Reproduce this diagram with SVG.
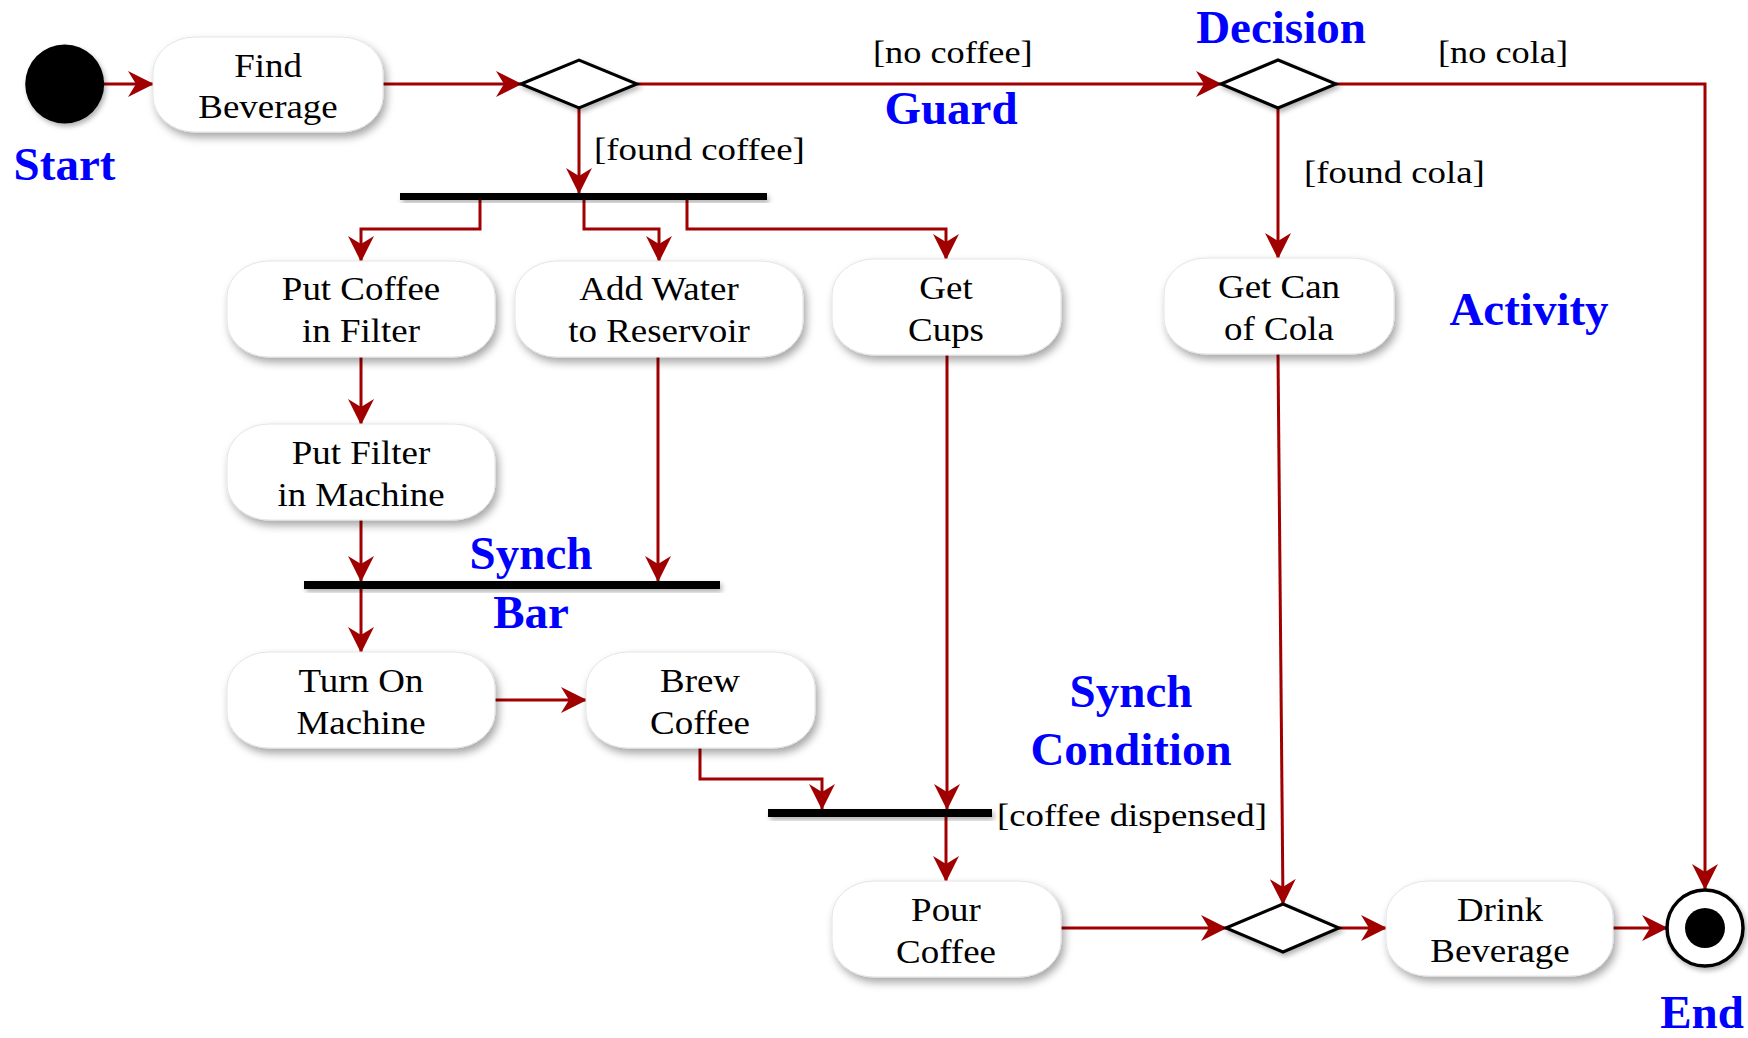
<svg xmlns="http://www.w3.org/2000/svg" width="1748" height="1038" viewBox="0 0 1748 1038">
<defs>
<filter id="sh" x="-20%" y="-30%" width="140%" height="170%">
<feDropShadow dx="3" dy="5" stdDeviation="4" flood-color="#000" flood-opacity="0.35"/>
</filter>
<filter id="shs" x="-20%" y="-40%" width="140%" height="180%">
<feDropShadow dx="2" dy="3" stdDeviation="2.5" flood-color="#000" flood-opacity="0.3"/>
</filter>
<marker id="arr" markerUnits="userSpaceOnUse" viewBox="0 0 26 26" refX="25" refY="13" markerWidth="26" markerHeight="26" orient="auto">
<path d="M0,0 L26,13 L0,26 L8,13 Z" fill="#A00000"/>
</marker>
</defs>
<style>
.box{fill:#fff;stroke:#e4e4e4;stroke-width:1;filter:url(#sh)}
.dia{fill:#fff;stroke:#000;stroke-width:3;filter:url(#shs)}
.bar{fill:#000;filter:url(#shs)}
.t{font-family:"Liberation Serif","Times New Roman",serif;font-size:33px;fill:#000;text-anchor:middle}
.g{font-family:"Liberation Serif","Times New Roman",serif;font-size:32px;fill:#000}
.lbl{font-family:"Liberation Serif","Times New Roman",serif;font-size:47px;font-weight:bold;fill:#0000FF;text-anchor:middle}
.c{fill:none;stroke:#A00000;stroke-width:3;marker-end:url(#arr)}
</style>
<rect width="1748" height="1038" fill="#fff"/>

<g id="connectors">
<path class="c" d="M104,84 H153"/>
<path class="c" d="M383,84 H521"/>
<path class="c" d="M637,84 H1221"/>
<path class="c" d="M1336,84 H1705 V889"/>
<path class="c" d="M579,108 V193"/>
<path class="c" d="M480,200 V229 H361 V261"/>
<path class="c" d="M584,200 V229 H659 V261"/>
<path class="c" d="M687,200 V229 H946 V259"/>
<path class="c" d="M1278,108 V258"/>
<path class="c" d="M361,357 V424"/>
<path class="c" d="M361,520 V581"/>
<path class="c" d="M658,357 V581"/>
<path class="c" d="M361,589 V652"/>
<path class="c" d="M495,700 H586"/>
<path class="c" d="M700,748 V779 H822 V809"/>
<path class="c" d="M947,355 V809"/>
<path class="c" d="M946,817 V881"/>
<path class="c" d="M1278,354 L1283,904"/>
<path class="c" d="M1061,928 H1226"/>
<path class="c" d="M1339,928 H1386"/>
<path class="c" d="M1613,928 H1667"/>
</g>

<g id="start">
<circle cx="64.7" cy="84" r="39.5" fill="#000" filter="url(#shs)"/>
</g>
<g id="find-beverage">
<rect class="box" x="153" y="37" width="230" height="95" rx="42" ry="36"/>
<text class="t" transform="translate(268 77) scale(1.12 1)"><tspan x="0" y="0">Find</tspan><tspan x="0" y="41">Beverage</tspan></text>
</g>
<g id="decision1"><polygon class="dia" points="521,84 579,60 637,84 579,108"/></g>
<g id="decision2"><polygon class="dia" points="1221,84 1278,60 1336,84 1278,108"/></g>
<g id="fork1"><rect class="bar" x="400" y="193" width="367" height="7"/></g>
<g id="put-coffee">
<rect class="box" x="227" y="261" width="268" height="96" rx="42" ry="36"/>
<text class="t" transform="translate(361 300) scale(1.12 1)"><tspan x="0" y="0">Put Coffee</tspan><tspan x="0" y="42">in Filter</tspan></text>
</g>
<g id="add-water">
<rect class="box" x="515" y="261" width="288" height="96" rx="42" ry="36"/>
<text class="t" transform="translate(659 300) scale(1.12 1)"><tspan x="0" y="0">Add Water</tspan><tspan x="0" y="42">to Reservoir</tspan></text>
</g>
<g id="get-cups">
<rect class="box" x="832" y="259" width="229" height="96" rx="42" ry="36"/>
<text class="t" transform="translate(946 299) scale(1.12 1)"><tspan x="0" y="0">Get</tspan><tspan x="0" y="42">Cups</tspan></text>
</g>
<g id="get-cola">
<rect class="box" x="1164" y="258" width="230" height="96" rx="42" ry="36"/>
<text class="t" transform="translate(1279 298) scale(1.12 1)"><tspan x="0" y="0">Get Can</tspan><tspan x="0" y="42">of Cola</tspan></text>
</g>
<g id="put-filter">
<rect class="box" x="227" y="424" width="268" height="96" rx="42" ry="36"/>
<text class="t" transform="translate(361 464) scale(1.12 1)"><tspan x="0" y="0">Put Filter</tspan><tspan x="0" y="42">in Machine</tspan></text>
</g>
<g id="synch-bar"><rect class="bar" x="304" y="581" width="416" height="8"/></g>
<g id="turn-on">
<rect class="box" x="227" y="652" width="268" height="96" rx="42" ry="36"/>
<text class="t" transform="translate(361 692) scale(1.12 1)"><tspan x="0" y="0">Turn On</tspan><tspan x="0" y="42">Machine</tspan></text>
</g>
<g id="brew">
<rect class="box" x="586" y="652" width="229" height="96" rx="42" ry="36"/>
<text class="t" transform="translate(700 692) scale(1.12 1)"><tspan x="0" y="0">Brew</tspan><tspan x="0" y="42">Coffee</tspan></text>
</g>
<g id="join"><rect class="bar" x="768" y="809" width="224" height="8"/></g>
<g id="pour">
<rect class="box" x="832" y="881" width="229" height="96" rx="42" ry="36"/>
<text class="t" transform="translate(946 921) scale(1.12 1)"><tspan x="0" y="0">Pour</tspan><tspan x="0" y="42">Coffee</tspan></text>
</g>
<g id="merge"><polygon class="dia" points="1226,928 1283,904 1339,928 1283,952"/></g>
<g id="drink">
<rect class="box" x="1386" y="881" width="227" height="95" rx="42" ry="36"/>
<text class="t" transform="translate(1500 921) scale(1.12 1)"><tspan x="0" y="0">Drink</tspan><tspan x="0" y="41">Beverage</tspan></text>
</g>
<g id="end">
<circle cx="1705" cy="928" r="38" fill="#fff" stroke="#000" stroke-width="3.5" filter="url(#shs)"/>
<circle cx="1705" cy="928" r="20" fill="#000"/>
</g>

<g id="guards">
<text class="g" transform="translate(873 63) scale(1.135 1)">[no coffee]</text>
<text class="g" transform="translate(1438 63) scale(1.135 1)">[no cola]</text>
<text class="g" transform="translate(594 160) scale(1.15 1)">[found coffee]</text>
<text class="g" transform="translate(1304 183) scale(1.15 1)">[found cola]</text>
<text class="g" transform="translate(997 826) scale(1.15 1)">[coffee dispensed]</text>
</g>

<g id="annotations">
<text class="lbl" x="64.5" y="180">Start</text>
<text class="lbl" x="1281" y="43">Decision</text>
<text class="lbl" x="951" y="124">Guard</text>
<text class="lbl" x="1529" y="325">Activity</text>
<text class="lbl" x="531" y="569">Synch</text>
<text class="lbl" x="531" y="628">Bar</text>
<text class="lbl" x="1131" y="707">Synch</text>
<text class="lbl" x="1131" y="765">Condition</text>
<text class="lbl" x="1702" y="1028">End</text>
</g>
</svg>
